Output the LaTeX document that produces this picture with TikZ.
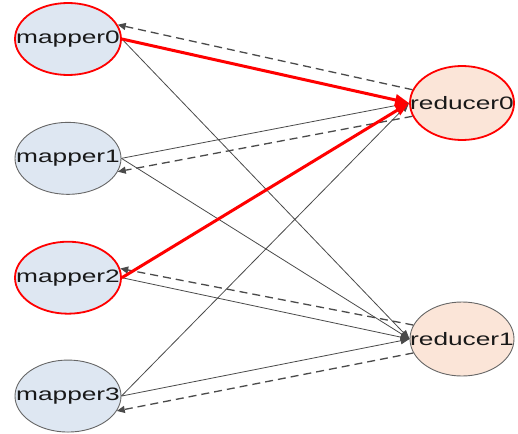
\documentclass[tikz,border=0pt]{standalone}
\usepackage{fontspec}
\usepackage{xcolor}
\usetikzlibrary{arrows.meta, positioning, shapes.geometric}
\newfontfamily\nodefont[FakeStretch=1.46]{Liberation Sans}
\definecolor{mapfill}{HTML}{DEE7F2}
\definecolor{redfill}{HTML}{FBE5D8}
\definecolor{edgegray}{HTML}{4A4A4A}
\newcommand{\nodetext}[1]{\makebox[0pt]{#1}}

\begin{document}
\begin{tikzpicture}[x=1pt, y=-1pt, node distance=45pt, >=Triangle]
    \tikzset{mapper/.style = {ellipse, draw=gray!80!black, line width=0.9pt, fill=mapfill, minimum width=106pt, minimum height=72pt, inner sep=0pt, text=black!90, font=\nodefont\fontsize{18pt}{20pt}\selectfont}}
    \tikzset{reducer/.style = {mapper, fill=redfill, minimum width=104pt, minimum height=74pt}}
    \tikzset{busy/.style = {draw=red, line width=1.8pt}}
    \tikzset{push/.style = {draw=edgegray, line width=0.8pt, -{Triangle[length=9pt, width=7pt]}}}
    \tikzset{pull/.style = {draw=edgegray, line width=1.3pt, dash pattern=on 8pt off 5pt, -{Triangle[length=8pt, width=7pt]}}}
    \tikzset{hot/.style = {draw=red, line width=3pt, -{Triangle[length=14pt, width=11pt]}}}

    \useasboundingbox (0,0) rectangle (518,433);

    % Mappers and reducers
    \node [mapper, busy] (m0) at (68,39) {\nodetext{mapper0}};
    \node [mapper, below=46pt of m0] (m1) {\nodetext{mapper1}};
    \node [mapper, busy, below=46pt of m1] (m2) {\nodetext{mapper2}};
    \node [mapper, below=45pt of m2] (m3) {\nodetext{mapper3}};
    \node [reducer, busy] (r0) at (462,103) {\nodetext{reducer0}};
    \node [reducer] (r1) at (462,339) {\nodetext{reducer1}};

    % Map output to reducers
    \draw [push] (m0.east) -- (r1.west);
    \draw [push] (m1.east) -- (r0.west);
    \draw [push] (m1.east) -- (r1.west);
    \draw [push] (m2.east) -- (r1.west);
    \draw [push] (m3.east) -- (r0.west);
    \draw [push] (m3.east) -- (r1.west);

    % Reducers fetching back
    \draw [pull] (r0.165) -- (m0.16);
    \draw [pull] (r0.195) -- (m1.-15);
    \draw [pull] (r1.164) -- (m2.10);
    \draw [pull] (r1.196) -- (m3.-17);

    % Slow path
    \draw [hot] (m0.east) -- (r0.west);
    \draw [hot] (m2.east) -- (r0.west);
\end{tikzpicture}
\end{document}
